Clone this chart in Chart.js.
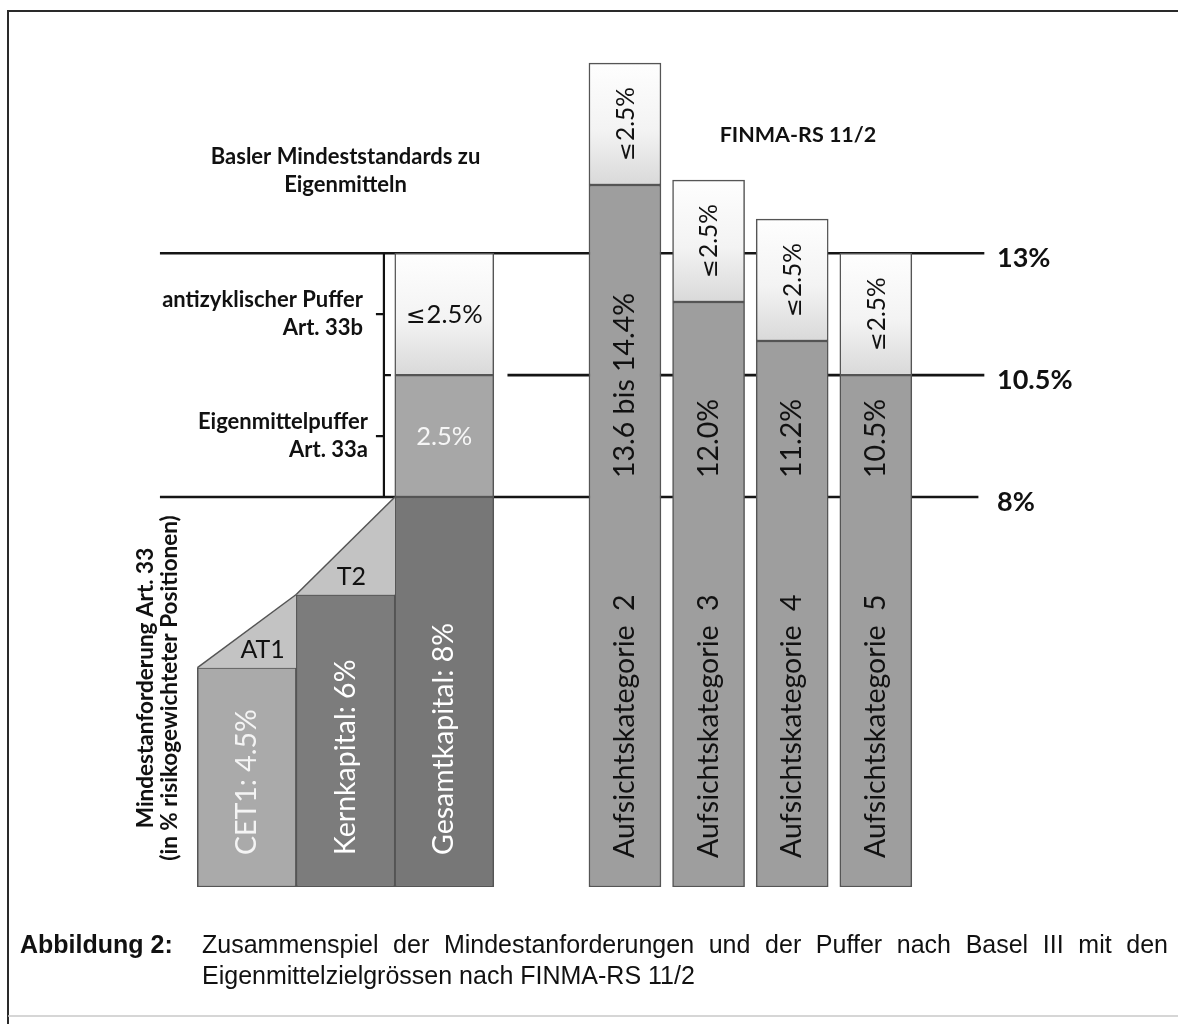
<!DOCTYPE html>
<html><head><meta charset="utf-8">
<script src="https://cdn.jsdelivr.net/npm/chart.js@4.4.1/dist/chart.umd.min.js"></script>
<style>html,body{margin:0;padding:0;background:#fff;}canvas{display:block}</style>
</head><body>
<canvas id="c" width="1178" height="1024"></canvas>
<script>
// ---------- data ----------
const baselCategories = ['CET1: 4.5%', 'Kernkapital: 6%', 'Gesamtkapital: 8%'];
const baselValues = [4.5, 6, 8];
const baselStepLabels = ['AT1', 'T2'];
const bufferNames = [['Eigenmittelpuffer', 'Art. 33a'], ['antizyklischer Puffer', 'Art. 33b']];
const bufferValues = [2.5, 2.5];
const bufferLabels = ['2.5%', '\u22642.5%'];
const finmaCategories = ['Aufsichtskategorie  2', 'Aufsichtskategorie  3', 'Aufsichtskategorie  4', 'Aufsichtskategorie  5'];
const finmaValues = [14.4, 12.0, 11.2, 10.5];
const finmaValueLabels = ['13.6 bis 14.4%', '12.0%', '11.2%', '10.5%'];
const finmaBuffer = [2.5, 2.5, 2.5, 2.5];
const finmaBufferLabels = ['\u22642.5%', '\u22642.5%', '\u22642.5%', '\u22642.5%'];
const thresholds = [13, 10.5, 8];
const thresholdLabels = ['13%', '10.5%', '8%'];
const titleBasel = ['Basler Mindeststandards zu', 'Eigenmitteln'];
const titleFinma = 'FINMA-RS 11/2';
const axisTitle = ['Mindestanforderung Art. 33', '(in % risikogewichteter Positionen)'];
const captionHead = 'Abbildung 2:';
const captionLines = ['Zusammenspiel der Mindestanforderungen und der Puffer nach Basel III mit den',
                      'Eigenmittelzielgr\u00f6ssen nach FINMA-RS 11/2'];

// ---------- layout (slot positions on the x scale) ----------
const G2_START = 3.83, G2_PITCH = 0.847;
const posL = i => i;
const posR = i => G2_START + i * G2_PITCH;
const LINE_FROM = [-0.88, 2.64, -0.88];
const LINE_TO = [7.47, 7.47, 7.41];

const FONT = 'Lato, "Open Sans", sans-serif';
const ALT_FONT = '"DejaVu Sans", "Open Sans", sans-serif';
const baselColors = ['#aaaaaa', '#7c7c7c', '#777777'];
const bufferColors = ['#a7a7a7', null];
const finmaColor = '#9e9e9e';
const EDGE = '#555555';

function gradFill(ctx) {
  const chart = ctx.chart;
  if (!chart.chartArea || !ctx.raw) return '#f0f0f0';
  const ys = chart.scales.y;
  const top = ys.getPixelForValue(ctx.raw.y[1]);
  const bot = ys.getPixelForValue(ctx.raw.y[0]);
  const g = chart.ctx.createLinearGradient(0, top, 0, bot);
  g.addColorStop(0, '#fefefe');
  g.addColorStop(0.55, '#f3f3f3');
  g.addColorStop(1, '#d9d9d9');
  return g;
}

const datasets = [];
// reference lines
thresholds.forEach((t, i) => {
  datasets.push({
    type: 'line', order: 9,
    data: [{x: LINE_FROM[i], y: t}, {x: LINE_TO[i], y: t}],
    borderColor: '#151515', borderWidth: 2.6, pointRadius: 0, fill: false
  });
});
// Basel minimum requirements
datasets.push({
  type: 'bar', order: 3, grouped: false, barThickness: 99,
  data: baselValues.map((v, i) => ({x: posL(i), y: [0, v]})),
  backgroundColor: baselColors, borderColor: EDGE, borderWidth: 1.5, borderSkipped: false
});
// Basel buffers stacked on Gesamtkapital
let base = baselValues[baselValues.length - 1];
bufferValues.forEach((v, i) => {
  datasets.push({
    type: 'bar', order: 3, grouped: false, barThickness: 99,
    data: [{x: posL(baselValues.length - 1), y: [base, base + v]}],
    backgroundColor: bufferColors[i] || gradFill, borderColor: EDGE, borderWidth: 1.5, borderSkipped: false
  });
  base += v;
});
// FINMA categories
datasets.push({
  type: 'bar', order: 3, grouped: false, barThickness: 72,
  data: finmaValues.map((v, i) => ({x: posR(i), y: [0, v]})),
  backgroundColor: finmaColor, borderColor: EDGE, borderWidth: 1.5, borderSkipped: false
});
datasets.push({
  type: 'bar', order: 3, grouped: false, barThickness: 72,
  data: finmaValues.map((v, i) => ({x: posR(i), y: [v, v + finmaBuffer[i]]})),
  backgroundColor: gradFill, borderColor: EDGE, borderWidth: 1.5, borderSkipped: false
});
// AT1 / T2 steps (triangles between the minimum bars)
for (let i = 0; i < baselValues.length - 1; i++) {
  datasets.push({
    type: 'line', order: 1,
    data: [{x: posL(i) - 0.5, y: baselValues[i]}, {x: posL(i) + 0.5, y: baselValues[i + 1]}],
    borderColor: EDGE, borderWidth: 1.5, pointRadius: 0,
    fill: {value: baselValues[i]}, backgroundColor: '#c3c3c3'
  });
}

function T(ctx, s, x, y, o) {
  ctx.save();
  ctx.translate(x, y);
  if (o.rot) ctx.rotate(o.rot);
  ctx.font = o.font;
  ctx.fillStyle = o.color || '#111';
  ctx.textAlign = o.align || 'center';
  ctx.textBaseline = o.base || 'middle';
  ctx.fillText(s, 0, 0);
  ctx.restore();
}
// text where the "≤" sign is taken from a font with a full-height glyph
function TM(ctx, s, x, y, size, o) {
  const runs = [];
  for (const ch of s) {
    const alt = ch === '\u2264';
    const last = runs[runs.length - 1];
    if (last && last.alt === alt) last.t += ch; else runs.push({t: ch, alt});
  }
  ctx.save();
  ctx.translate(x, y);
  if (o.rot) ctx.rotate(o.rot);
  ctx.fillStyle = o.color || '#111';
  ctx.textBaseline = 'alphabetic';
  ctx.textAlign = 'left';
  let total = 0;
  runs.forEach(r => {
    r.font = r.alt ? `${size * 0.92}px ${ALT_FONT}` : `${size}px ${FONT}`;
    ctx.font = r.font; r.w = ctx.measureText(r.t).width + (r.alt ? 1 : 0); total += r.w;
  });
  let cx = -total / 2;
  const by = size * 0.36;
  runs.forEach(r => { ctx.font = r.font; ctx.fillText(r.t, cx, by); cx += r.w; });
  ctx.restore();
}
function justify(ctx, s, x0, x1, y) {
  const words = s.split(' ');
  const w = words.reduce((a, w) => a + ctx.measureText(w).width, 0);
  const gap = (x1 - x0 - w) / (words.length - 1);
  let x = x0;
  words.forEach(wd => { ctx.fillText(wd, x, y); x += ctx.measureText(wd).width + gap; });
}

const overlay = {
  id: 'overlay',
  afterDraw(chart) {
    const ctx = chart.ctx, xs = chart.scales.x, ys = chart.scales.y;
    const X = v => xs.getPixelForValue(v), Y = v => ys.getPixelForValue(v);
    const UP = -Math.PI / 2;
    // frame
    ctx.save();
    ctx.strokeStyle = '#2a2a2a'; ctx.lineWidth = 2;
    ctx.beginPath(); ctx.moveTo(8, 1024); ctx.lineTo(8, 11); ctx.lineTo(1178, 11); ctx.stroke();
    ctx.strokeStyle = '#c8c8c8'; ctx.lineWidth = 1.5;
    ctx.beginPath(); ctx.moveTo(8, 1016); ctx.lineTo(1178, 1016); ctx.stroke();
    ctx.restore();

    // bracket
    const bx = X(posL(2) - 0.5) - 11;
    ctx.save();
    ctx.strokeStyle = '#111'; ctx.lineWidth = 2.2;
    ctx.beginPath();
    ctx.moveTo(bx, Y(thresholds[0])); ctx.lineTo(bx, Y(thresholds[2]));
    const ym1 = (Y(thresholds[0]) + Y(thresholds[1])) / 2, ym2 = (Y(thresholds[1]) + Y(thresholds[2])) / 2;
    ctx.moveTo(bx, ym1); ctx.lineTo(bx - 8, ym1);
    ctx.moveTo(bx, ym2); ctx.lineTo(bx - 8, ym2);
    ctx.moveTo(bx, Y(thresholds[1])); ctx.lineTo(bx + 7, Y(thresholds[1]));
    ctx.stroke();
    ctx.restore();

    const bold = sz => `bold ${sz}px ${FONT}`;
    const reg = sz => `${sz}px ${FONT}`;
    // bracket labels
    T(ctx, bufferNames[1][0], bx - 21, ym1 - 14, {font: bold(22), align: 'right'});
    T(ctx, bufferNames[1][1], bx - 21, ym1 + 14, {font: bold(22), align: 'right'});
    T(ctx, bufferNames[0][0], bx - 16, ym2 - 14, {font: bold(22), align: 'right'});
    T(ctx, bufferNames[0][1], bx - 16, ym2 + 14, {font: bold(22), align: 'right'});

    // titles
    T(ctx, titleBasel[0], X(posL(1)), 157, {font: bold(22)});
    T(ctx, titleBasel[1], X(posL(1)), 185, {font: bold(22)});
    T(ctx, titleFinma, 798, 135, {font: bold(21.5)});

    // axis title (rotated)
    T(ctx, axisTitle[0], 146, 688, {font: bold(22.5), rot: UP});
    T(ctx, axisTitle[1], 170, 688, {font: bold(22.5), rot: UP});

    // Basel bar labels
    const baselTextColors = ['#f4f4f4', '#ffffff', '#ffffff'];
    baselCategories.forEach((s, i) => {
      T(ctx, s, X(posL(i)), Y(0) - 32, {font: reg(28.5), rot: UP, align: 'left', color: baselTextColors[i]});
    });
    // AT1 / T2
    T(ctx, baselStepLabels[0], X(posL(0) + 0.16), Y(baselValues[0]) - 10, {font: reg(25), base: 'alphabetic'});
    T(ctx, baselStepLabels[1], X(posL(1) + 0.06), Y(baselValues[1]) - 10, {font: reg(25), base: 'alphabetic'});
    // buffer labels
    let b = baselValues[baselValues.length - 1];
    bufferValues.forEach((v, i) => {
      TM(ctx, bufferLabels[i], X(posL(2)), Y(b + v / 2), 25.5, {color: i === 0 ? '#f6f6f6' : '#111'});
      b += v;
    });

    // FINMA labels
    finmaCategories.forEach((s, i) => {
      const x = X(posR(i));
      T(ctx, s, x, Y(0) - 29, {font: reg(28.5), rot: UP, align: 'left'});
      T(ctx, finmaValueLabels[i], x, Y(thresholds[2]) - 19, {font: reg(28.5), rot: UP, align: 'left'});
      TM(ctx, finmaBufferLabels[i], x, Y(finmaValues[i] + finmaBuffer[i] / 2), 24.5, {rot: UP});
    });

    // threshold labels
    thresholds.forEach((t, i) => {
      T(ctx, thresholdLabels[i], 997, Y(t) + 5, {font: bold(27), align: 'left'});
    });

    // caption
    ctx.save();
    ctx.fillStyle = '#111';
    ctx.textBaseline = 'alphabetic';
    ctx.font = 'bold 25px "Liberation Sans", Arial, sans-serif';
    ctx.fillText(captionHead, 20, 953);
    ctx.font = '25px "Liberation Sans", Arial, sans-serif';
    justify(ctx, captionLines[0], 202, 1168, 953);
    ctx.fillText(captionLines[1], 202, 984);
    ctx.restore();
  }
};

new Chart(document.getElementById('c'), {
  type: 'bar',
  data: {datasets},
  options: {
    responsive: false, animation: false, devicePixelRatio: 1,
    layout: {padding: {left: 0, right: 13, top: 9.5, bottom: 137}, autoPadding: false},
    scales: {
      x: {type: 'linear', min: -2.5, max: 9.3, offset: false, display: false},
      y: {type: 'linear', min: 0, max: 18, offset: false, display: false}
    },
    plugins: {legend: {display: false}, tooltip: {enabled: false}}
  },
  plugins: [overlay]
});
</script>
</body></html>
